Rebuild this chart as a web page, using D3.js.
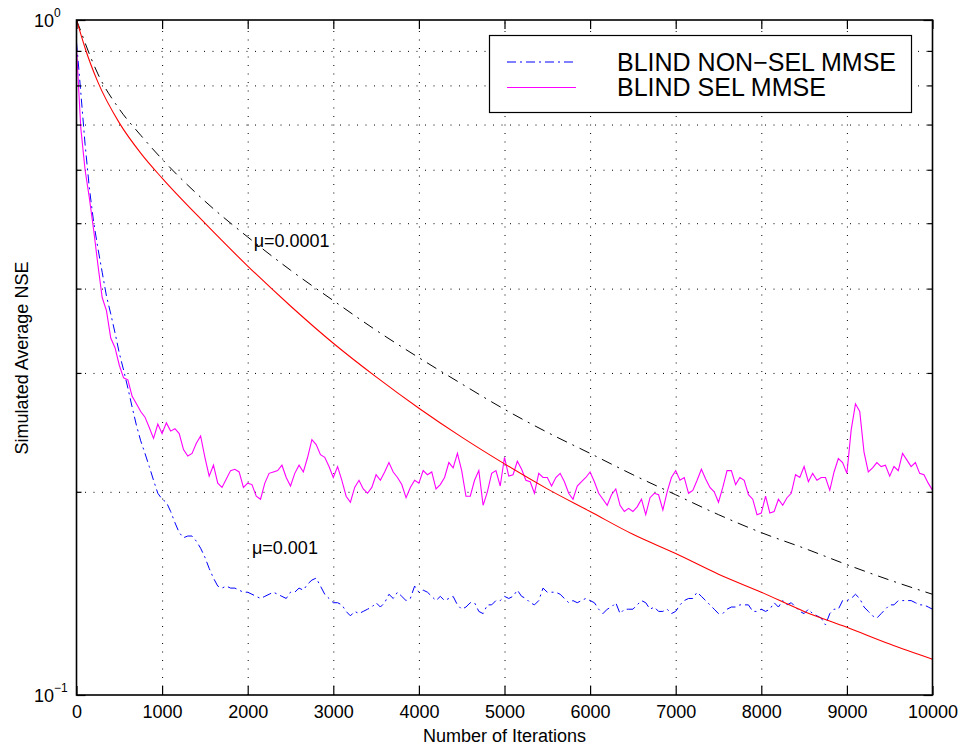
<!DOCTYPE html>
<html lang="en">
<head>
<meta charset="utf-8">
<title>Blind MMSE NSE convergence</title>
<script src="https://d3js.org/d3.v7.min.js"></script>
<style>
  body { margin: 0; background: #fff; }
  svg text { font-family: "Liberation Sans", Arial, Helvetica, sans-serif; fill: #000; }
</style>
</head>
<body>
<script>
// ---- data ----
// noisy mu=0.001 runs, sampled every 50 iterations
var noisyIters = d3.range(0, 10001, 50);

var nonSelFast = [
  .928,.782,.655,.564,.502,.459,.423,.390,.367,.344,
  .321,.303,.285,.267,.251,.238,.228,.218,.208,.199,
  .195,.193,.187,.180,.174,.171,.172,.172,.169,.165,
  .160,.154,.149,.145,.144,.145,.144,.144,.143,.142,
  .142,.141,.140,.139,.140,.141,.142,.141,.140,.139,
  .142,.142,.144,.143,.146,.148,.149,.145,.141,.139,
  .137,.137,.136,.133,.131,.133,.132,.133,.134,.135,
  .137,.135,.137,.141,.139,.142,.140,.138,.139,.145,
  .142,.143,.142,.140,.138,.140,.138,.139,.140,.136,
  .134,.135,.137,.137,.133,.132,.136,.136,.138,.138,
  .140,.139,.140,.143,.140,.139,.137,.136,.138,.144,
  .142,.142,.142,.141,.139,.137,.138,.137,.138,.139,
  .138,.137,.134,.132,.134,.135,.137,.132,.134,.134,
  .134,.136,.138,.137,.134,.135,.133,.133,.134,.132,
  .133,.136,.138,.139,.139,.142,.140,.138,.136,.134,
  .132,.132,.134,.135,.135,.136,.136,.136,.133,.133,
  .134,.133,.134,.137,.135,.138,.136,.137,.135,.133,
  .132,.134,.132,.131,.130,.127,.132,.134,.134,.138,
  .138,.139,.141,.139,.135,.133,.131,.130,.132,.134,
  .136,.136,.138,.138,.138,.138,.137,.136,.136,.135,
  .134];

var selFast = [
  .909,.692,.600,.545,.489,.434,.388,.371,.338,.327,
  .308,.295,.293,.277,.270,.263,.258,.249,.240,.252,
  .244,.253,.246,.248,.244,.231,.226,.228,.236,.242,
  .225,.211,.219,.206,.203,.209,.215,.216,.214,.203,
  .206,.205,.197,.195,.206,.213,.214,.215,.219,.210,
  .204,.213,.219,.214,.225,.239,.235,.227,.225,.218,
  .210,.218,.208,.197,.193,.203,.208,.202,.199,.203,
  .212,.208,.214,.221,.214,.210,.205,.196,.203,.208,
  .206,.215,.212,.214,.202,.205,.210,.221,.217,.228,
  .215,.197,.197,.208,.215,.191,.200,.213,.215,.204,
  .225,.211,.212,.222,.216,.208,.207,.199,.213,.210,
  .210,.204,.210,.213,.207,.199,.195,.204,.207,.210,
  .214,.207,.199,.195,.191,.198,.202,.191,.187,.189,
  .187,.190,.195,.185,.196,.199,.198,.188,.200,.210,
  .215,.208,.210,.199,.201,.208,.216,.209,.203,.200,
  .193,.203,.215,.215,.205,.210,.208,.198,.195,.185,
  .186,.197,.186,.187,.195,.191,.196,.199,.212,.210,
  .218,.207,.213,.208,.210,.210,.201,.214,.224,.221,
  .213,.247,.270,.263,.229,.214,.217,.221,.218,.219,
  .211,.218,.215,.228,.223,.218,.221,.213,.212,.206,
  .201];

// smooth mu=0.0001 runs
var smoothIters = [0,50,100,250,500,750,1000,1500,2000,2500,3000,3500,4000,
                   4500,5000,5500,6000,6500,7000,7500,8000,8500,9000,9500,10000];
var nonSelSlow = [1.0,.963,.925,.832,.738,.675,.622,.539,.477,.426,.384,.347,.316,
                  .289,.265,.245,.228,.212,.198,.185,.174,.165,.156,.148,.141];
var selSlow    = [1.0,.953,.909,.809,.704,.635,.583,.500,.432,.377,.332,.296,.266,
                  .241,.220,.202,.187,.173,.162,.151,.142,.133,.126,.119,.113];

var xTicks = [0,1000,2000,3000,4000,5000,6000,7000,8000,9000,10000];
var yMajor = [0.1, 1];
var yMinor = [0.2,0.3,0.4,0.5,0.6,0.7,0.8,0.9];
var yMajorLabels = [{v: 1, exp: "0"}, {v: 0.1, exp: "\u22121"}];
var legendNames = ["BLIND NON\u2212SEL MMSE", "BLIND SEL MMSE"];
var notes = [{text: "\u03bc=0.0001", it: 2070, v: 0.461}, {text: "\u03bc=0.001", it: 2050, v: 0.162}];

// ---- layout ----
var W = 962, H = 746;
var plotL = 76.5, plotR = 932.5, plotT = 20, plotB = 695;

var svg = d3.select("body").append("svg").attr("width", W).attr("height", H);
svg.append("rect").attr("width", W).attr("height", H).attr("fill", "#fff");

var x = d3.scaleLinear().domain([0, 10000]).range([plotL, plotR]);
var y = d3.scaleLog().domain([0.1, 1]).range([plotB, plotT]);

// dotted grid
var gx = svg.append("g").attr("transform", "translate(0," + plotB + ")")
  .call(d3.axisBottom(x).tickValues(xTicks.slice(1, -1)).tickSize(-(plotB - plotT)).tickFormat(""));
var gy = svg.append("g").attr("transform", "translate(" + plotL + ",0)")
  .call(d3.axisLeft(y).tickValues(yMinor).tickSize(-(plotR - plotL)).tickFormat(""));
[gx, gy].forEach(function(g) {
  g.select(".domain").remove();
  g.selectAll("line").attr("stroke", "#000").attr("stroke-width", 1).attr("stroke-dasharray", "1,7.5");
});

// curves
var noisyLine = d3.line().x(function(d) { return x(d[0]); }).y(function(d) { return y(d[1]); });
var smoothLine = d3.line().x(function(d) { return x(d[0]); }).y(function(d) { return y(d[1]); })
  .curve(d3.curveMonotoneX);

svg.append("path").datum(d3.zip(noisyIters, nonSelFast)).attr("d", noisyLine)
  .attr("fill", "none").attr("stroke", "#0000ff").attr("stroke-width", 1).attr("stroke-dasharray", "9,4,2,4");
svg.append("path").datum(d3.zip(noisyIters, selFast)).attr("d", noisyLine)
  .attr("fill", "none").attr("stroke", "#ff00ff").attr("stroke-width", 1.1);
svg.append("path").datum(d3.zip(smoothIters, nonSelSlow)).attr("d", smoothLine)
  .attr("fill", "none").attr("stroke", "#000").attr("stroke-width", 1).attr("stroke-dasharray", "11,6,2,6");
svg.append("path").datum(d3.zip(smoothIters, selSlow)).attr("d", smoothLine)
  .attr("fill", "none").attr("stroke", "#ff0000").attr("stroke-width", 1.1);

// axes with inward ticks
function tidy(g) {
  g.select(".domain").remove();
  g.selectAll("line").attr("stroke", "#000").attr("stroke-width", 1.2);
}
var xb = svg.append("g").attr("transform", "translate(0," + plotB + ")")
  .call(d3.axisBottom(x).tickValues(xTicks).tickSizeInner(-9).tickSizeOuter(0).tickPadding(10)
    .tickFormat(d3.format("d")));
tidy(xb);
xb.selectAll("text").attr("font-size", 18).attr("font-family", null);
tidy(svg.append("g").attr("transform", "translate(0," + plotT + ")")
  .call(d3.axisTop(x).tickValues(xTicks).tickSizeInner(-9).tickSizeOuter(0).tickFormat("")));
tidy(svg.append("g").attr("transform", "translate(" + plotL + ",0)")
  .call(d3.axisLeft(y).tickValues(yMajor).tickSizeInner(-9).tickSizeOuter(0).tickFormat("")));
tidy(svg.append("g").attr("transform", "translate(" + plotL + ",0)")
  .call(d3.axisLeft(y).tickValues(yMinor).tickSizeInner(-5).tickSizeOuter(0).tickFormat("")));
tidy(svg.append("g").attr("transform", "translate(" + plotR + ",0)")
  .call(d3.axisRight(y).tickValues(yMajor).tickSizeInner(-9).tickSizeOuter(0).tickFormat("")));
tidy(svg.append("g").attr("transform", "translate(" + plotR + ",0)")
  .call(d3.axisRight(y).tickValues(yMinor).tickSizeInner(-5).tickSizeOuter(0).tickFormat("")));

svg.append("rect").attr("x", plotL).attr("y", plotT).attr("width", plotR - plotL).attr("height", plotB - plotT)
  .attr("fill", "none").attr("stroke", "#000").attr("stroke-width", 1.6);

// y labels as 10^n
yMajorLabels.forEach(function(d) {
  var t = svg.append("text").attr("x", 34).attr("y", y(d.v) + 7).attr("font-size", 18);
  t.append("tspan").text("10");
  t.append("tspan").attr("dy", -10).attr("font-size", 12).text(d.exp);
});

// axis titles
svg.append("text").attr("x", (plotL + plotR) / 2).attr("y", 742).attr("text-anchor", "middle")
  .attr("font-size", 18).text("Number of Iterations");
svg.append("text").attr("transform", "translate(28,358) rotate(-90)").attr("text-anchor", "middle")
  .attr("font-size", 18).text("Simulated Average NSE");

// step size notes
notes.forEach(function(n) {
  svg.append("text").attr("x", x(n.it)).attr("y", y(n.v)).attr("font-size", 18).text(n.text);
});

// legend
var lg = svg.append("g");
lg.append("rect").attr("x", 489.5).attr("y", 35.5).attr("width", 422).attr("height", 77)
  .attr("fill", "#fff").attr("stroke", "#000").attr("stroke-width", 1.2);
var legendStyles = [{c: "#0000ff", dash: "9,4,2,4"}, {c: "#ff00ff", dash: null}];
legendNames.forEach(function(name, i) {
  var ly = 62 + i * 25.5;
  lg.append("line").attr("x1", 507).attr("x2", 576).attr("y1", ly).attr("y2", ly)
    .attr("stroke", legendStyles[i].c).attr("stroke-width", 1.1).attr("stroke-dasharray", legendStyles[i].dash);
  lg.append("text").attr("x", 617).attr("y", ly + 8.5).attr("font-size", 25).text(name);
});
</script>
</body>
</html>
